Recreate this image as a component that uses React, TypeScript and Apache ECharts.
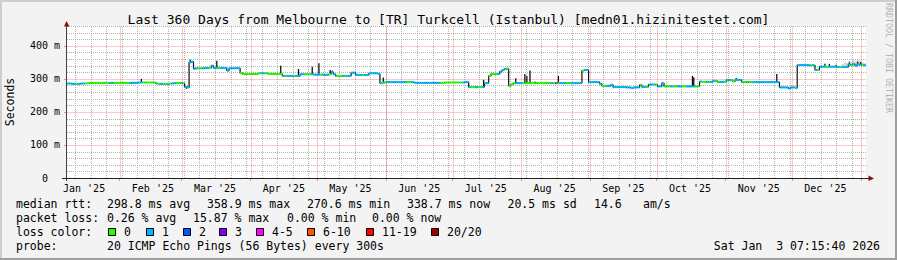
import React, { useEffect, useRef } from 'react';
import * as echarts from 'echarts';

// ---------- data ----------
const START_MS = Date.UTC(2025, 0, 8, 7, 15, 40);
const SPAN_DAYS = 360;
const Y_MAX = 460;

const titleText = 'Last 360 Days from Melbourne to [TR] Turkcell (Istanbul) [medn01.hizinitestet.com]';
const monthLabels = ["Jan '25", "Feb '25", "Mar '25", "Apr '25", "May '25", "Jun '25", "Jul '25", "Aug '25", "Sep '25", "Oct '25", "Nov '25", "Dec '25"];
const yTickValues = [0, 100, 200, 300, 400];

// daily median rtt (ms), day 0 = Jan 8 2025
const medianMs = [
  286, 286, 285, 285, 285, 285, 286, 286, 286, 287,
  287, 287, 288, 288, 287, 287, 288, 288, 288, 288,
  288, 287, 287, 288, 288, 288, 288, 287, 287, 288,
  288, 288, 289, 289, 289, 289, 289, 289, 289, 289,
  286, 285, 285, 285, 285, 285, 286, 286, 287, 287,
  287, 287, 287, 276, 274, 350, 352, 331, 332, 332,
  332, 332, 333, 333, 333, 340, 333, 333, 334, 333,
  333, 333, 325, 332, 332, 332, 333, 332, 318, 315,
  315, 315, 315, 315, 315, 315, 317, 317, 317, 317,
  316, 315, 315, 315, 315, 315, 315, 309, 309, 309,
  309, 309, 309, 309, 309, 314, 314, 314, 314, 314,
  314, 313, 313, 313, 313, 313, 312, 313, 314, 320,
  314, 309, 309, 309, 309, 309, 309, 309, 319, 319,
  312, 312, 312, 312, 312, 312, 317, 317, 317, 317,
  315, 287, 288, 290, 290, 290, 290, 290, 290, 290,
  290, 290, 290, 290, 290, 290, 289, 287, 288, 288,
  288, 288, 288, 288, 288, 288, 288, 288, 288, 288,
  289, 289, 289, 289, 289, 289, 289, 289, 289, 290,
  290, 275, 275, 275, 275, 275, 275, 275, 287, 287,
  309, 315, 315, 315, 315, 322, 327, 330, 331, 279,
  283, 287, 287, 287, 287, 287, 287, 287, 287, 287,
  287, 287, 287, 287, 287, 287, 287, 287, 287, 287,
  287, 287, 287, 287, 287, 287, 287, 287, 287, 287,
  287, 287, 325, 327, 327, 290, 290, 290, 290, 290,
  285, 279, 279, 279, 279, 282, 275, 275, 275, 275,
  275, 275, 274, 274, 272, 274, 274, 274, 282, 276,
  276, 276, 283, 283, 283, 283, 277, 277, 287, 277,
  277, 277, 277, 277, 277, 277, 277, 277, 277, 277,
  277, 277, 277, 277, 277, 292, 291, 291, 291, 291,
  291, 294, 294, 291, 291, 291, 291, 296, 296, 296,
  292, 297, 297, 297, 290, 290, 290, 290, 290, 290,
  290, 290, 290, 290, 290, 290, 290, 290, 290, 290,
  290, 274, 274, 274, 274, 271, 274, 274, 273, 342,
  342, 342, 342, 342, 341, 341, 341, 327, 327, 337,
  337, 337, 337, 337, 337, 337, 337, 336, 336, 336,
  336, 336, 343, 341, 345, 340, 344, 342, 343, 341,
];

// daily packet loss (pings lost of 20)
const lossCount = [
  1, 1, 1, 1, 0, 1, 1, 1, 0, 0,
  0, 0, 0, 0, 0, 0, 0, 0, 0, 1,
  1, 0, 0, 0, 0, 0, 0, 0, 1, 1,
  1, 1, 1, 1, 0, 0, 0, 0, 0, 0,
  1, 0, 1, 0, 0, 1, 0, 1, 1, 0,
  0, 1, 0, 1, 1, 1, 1, 1, 1, 0,
  0, 1, 1, 1, 0, 1, 1, 1, 0, 1,
  1, 1, 1, 1, 1, 1, 1, 1, 0, 0,
  0, 0, 0, 0, 0, 0, 0, 1, 1, 0,
  0, 0, 0, 0, 0, 0, 0, 1, 0, 1,
  1, 1, 0, 1, 1, 1, 1, 0, 0, 0,
  1, 1, 1, 1, 0, 1, 1, 1, 0, 1,
  1, 0, 0, 0, 1, 0, 1, 1, 1, 1,
  1, 1, 1, 0, 1, 1, 1, 1, 1, 1,
  1, 1, 0, 0, 1, 1, 1, 1, 1, 1,
  1, 1, 1, 0, 0, 1, 1, 1, 1, 1,
  1, 1, 1, 1, 1, 1, 1, 1, 0, 0,
  0, 0, 0, 0, 0, 0, 0, 0, 1, 1,
  1, 1, 0, 0, 1, 0, 0, 1, 1, 1,
  0, 0, 0, 0, 1, 1, 1, 1, 0, 0,
  0, 0, 1, 1, 1, 0, 0, 0, 0, 0,
  0, 0, 0, 0, 0, 0, 0, 0, 1, 0,
  4, 0, 1, 1, 1, 0, 0, 1, 1, 1,
  1, 1, 0, 1, 1, 1, 1, 1, 1, 1,
  1, 0, 0, 1, 1, 1, 1, 1, 1, 1,
  1, 1, 1, 1, 1, 1, 1, 1, 0, 1,
  1, 0, 1, 1, 1, 0, 1, 1, 1, 0,
  0, 0, 1, 0, 0, 1, 1, 0, 0, 1,
  1, 1, 1, 0, 0, 1, 0, 0, 1, 0,
  1, 1, 0, 0, 1, 1, 0, 1, 1, 0,
  0, 1, 1, 1, 0, 0, 1, 0, 0, 1,
  1, 1, 1, 1, 1, 1, 1, 1, 1, 1,
  1, 1, 1, 1, 1, 1, 1, 1, 1, 1,
  1, 1, 1, 1, 1, 0, 1, 1, 0, 1,
  1, 1, 0, 1, 1, 1, 1, 1, 0, 1,
  1, 1, 1, 0, 1, 1, 1, 1, 0, 1,
];

// short-lived excursions of the rtt: [day, value ms]
const spikes = [
  [33.5, 300], [53.8, 270], [55.5, 358], [67.5, 355], [96.3, 340], [104.3, 330], [110.5, 337],
  [113.5, 347], [118.6, 327], [119.6, 325], [142.5, 304], [187.7, 297], [202.2, 302],
  [206.3, 315], [207.2, 309], [208.6, 325], [210.8, 292], [221.4, 309], [268.4, 287],
  [281.8, 309], [282.4, 305], [301.5, 303], [319.8, 315], [341.5, 346], [343.5, 345],
  [346.5, 343], [352.5, 350], [356.2, 352], [357.6, 350],
];

// smoke (spread of pings) upper bound: [day, value ms]
const smokeHigh = [
  [349, 345], [350, 350], [351, 348], [352, 355], [353, 352], [354, 356],
  [355, 354], [356, 357], [357, 355], [358, 350], [359, 347],
];

const lossLegend = [
  { label: '0', min: 0, max: 0, color: '#26ff00' },
  { label: '1', min: 1, max: 1, color: '#00b8ff' },
  { label: '2', min: 2, max: 2, color: '#0059ff' },
  { label: '3', min: 3, max: 3, color: '#7e00ff' },
  { label: '4-5', min: 4, max: 5, color: '#ff00ff' },
  { label: '6-10', min: 6, max: 10, color: '#ff5500' },
  { label: '11-19', min: 11, max: 19, color: '#ff0000' },
  { label: '20/20', min: 20, max: 20, color: '#a10000' },
];

const rttStats = ['298.8 ms avg', '358.9 ms max', '270.6 ms min', '338.7 ms now', '20.5 ms sd', '14.6', 'am/s'];
const lossStats = ['0.26 % avg', '15.87 % max', '0.00 % min', '0.00 % now'];
const probeText = '20 ICMP Echo Pings (56 Bytes) every 300s';
const stampText = 'Sat Jan \u00a03 07:15:40 2026';

// ---------- layout ----------
const W = 897;
const H = 260;
const G_LEFT = 67;
const G_TOP = 26;
const G_RIGHT_X = 866;
const G_BOTTOM_Y = 178;
const FONT = '"DejaVu Sans Mono", monospace';
const LEG_SIZE = 11.5;
const rttX = [107, 207, 307, 407, 507.5, 594, 643];
const lossX = [107, 193, 287, 372];
const swatchX = [108, 146, 183, 219, 256, 307, 366, 431];
const rowY = [204, 218, 232, 246];
const MINOR_GRID = 'rgb(178,178,178)';
const MAJOR_GRID = 'rgba(238,80,80,0.3)';
const MAJOR_TICK = 'rgb(240,140,140)';

const dayOf = (y: number, m: number, d: number) => (Date.UTC(y, m, d) - START_MS) / 86400000;

function lossColor(n: number) {
  const b = lossLegend.find((l) => n >= l.min && n <= l.max);
  return b ? b.color : '#000';
}

function buildOption() {
  const monthStarts: number[] = [];
  for (let i = 1; i <= 12; i++) monthStarts.push(dayOf(2025, i, 1));
  const labelDays = monthLabels.map((_, i) => dayOf(2025, i, 16));
  const weekDays: number[] = [];
  for (let d = dayOf(2025, 0, 12); d < SPAN_DAYS; d += 7) weekDays.push(d);

  // grid segments: [x1, y1, x2, y2]
  const minorSegs: number[][] = [];
  weekDays.forEach((d) => minorSegs.push([d, 0, d, Y_MAX]));
  for (let v = 20; v <= Y_MAX; v += 20) if (v % 100 !== 0) minorSegs.push([0, v, SPAN_DAYS, v]);
  const majorSegs: number[][] = [];
  monthStarts.forEach((d) => majorSegs.push([d, 0, d, Y_MAX]));
  yTickValues.filter((v) => v > 0).forEach((v) => majorSegs.push([0, v, SPAN_DAYS, v]));

  const segLines = (api: any, segs: number[][], stroke: string, dashed: boolean) =>
    segs.map((s) => {
      const a = api.coord([s[0], s[1]]);
      const b = api.coord([s[2], s[3]]);
      const vertical = s[0] === s[2];
      const x1 = vertical ? Math.round(a[0]) + 0.5 : a[0];
      const x2 = vertical ? Math.round(b[0]) + 0.5 : b[0];
      const y1 = vertical ? a[1] : Math.round(a[1]) + 0.5;
      const y2 = vertical ? b[1] : Math.round(b[1]) + 0.5;
      const style: any = { stroke, lineWidth: 1 };
      if (dashed) style.lineDash = [1, 1];
      return { type: 'line', shape: { x1, y1, x2, y2 }, style };
    });

  const binData = medianMs.map((v, i) => [i, v, lossCount[i]]);
  const stepData = medianMs.map((v, i) => [i + 0.5, v]);
  const spikeData = spikes.map(([d, p]) => [d, medianMs[Math.min(medianMs.length - 1, Math.floor(d))], p]);
  const smokeData = smokeHigh.map(([d, hi]) => [d, medianMs[d] - 3, hi]);

  const txt = (text: string, x: number, y: number, extra: any = {}) => ({
    type: 'text',
    x,
    y,
    silent: true,
    style: { text, fill: '#000', fontFamily: FONT, fontSize: LEG_SIZE, textVerticalAlign: 'middle', ...extra },
  });

  const graphics: any[] = [
    // frame
    { type: 'polyline', silent: true, shape: { points: [[1, H], [1, 1], [W, 1]] }, style: { stroke: '#cecece', lineWidth: 2, fill: 'none' } },
    { type: 'polyline', silent: true, shape: { points: [[0, H - 1], [W - 1, H - 1], [W - 1, 0]] }, style: { stroke: '#9e9e9e', lineWidth: 2, fill: 'none' } },
    // title
    txt(titleText, W / 2, 19, { fontSize: 13, textAlign: 'center' }),
    // y axis title
    { type: 'text', silent: true, x: 10, y: 102, rotation: Math.PI / 2, style: { text: 'Seconds', fill: '#000', fontFamily: FONT, fontSize: LEG_SIZE, textAlign: 'center', textVerticalAlign: 'middle' } },
    // watermark
    { type: 'text', silent: true, x: 889, y: 58, rotation: -Math.PI / 2, style: { text: 'RRDTOOL / TOBI OETIKER', fill: '#b4b4b4', fontFamily: FONT, fontSize: 8.3, textAlign: 'center', textVerticalAlign: 'middle' } },
    // axes
    { type: 'line', silent: true, z: 10, shape: { x1: G_LEFT - 0.5, y1: G_BOTTOM_Y + 3, x2: G_LEFT - 0.5, y2: G_TOP - 4 }, style: { stroke: '#404040', lineWidth: 1 } },
    { type: 'line', silent: true, z: 10, shape: { x1: G_LEFT - 5, y1: G_BOTTOM_Y + 0.5, x2: G_RIGHT_X + 3, y2: G_BOTTOM_Y + 0.5 }, style: { stroke: '#202020', lineWidth: 1 } },
    { type: 'polygon', silent: true, z: 11, shape: { points: [[G_LEFT - 3, G_TOP + 0.5], [G_LEFT + 2.5, G_TOP + 0.5], [G_LEFT - 0.5, G_TOP - 5]] }, style: { fill: '#801010' } },
    { type: 'polygon', silent: true, z: 11, shape: { points: [[G_RIGHT_X + 2.5, G_BOTTOM_Y - 2.5], [G_RIGHT_X + 2.5, G_BOTTOM_Y + 3], [G_RIGHT_X + 8, G_BOTTOM_Y + 0.5]] }, style: { fill: '#801010' } },
    // legend rows
    txt('median rtt:', 16, rowY[0]),
    ...rttStats.map((s, i) => txt(s, rttX[i], rowY[0])),
    txt('packet loss:', 16, rowY[1]),
    ...lossStats.map((s, i) => txt(s, lossX[i], rowY[1])),
    txt('loss color:', 16, rowY[2]),
    ...lossLegend.map((l, i) => ({
      type: 'rect', silent: true,
      shape: { x: swatchX[i] + 0.5, y: rowY[2] - 3.5, width: 7, height: 7 },
      style: { fill: l.color, stroke: '#000', lineWidth: 1 },
    })),
    ...lossLegend.map((l, i) => txt(l.label, swatchX[i] + 16, rowY[2])),
    txt('probe:', 16, rowY[3]),
    txt(probeText, 107, rowY[3]),
    txt(stampText, 880, rowY[3], { textAlign: 'right' }),
  ];

  return {
    animation: false,
    backgroundColor: '#f3f3f3',
    grid: {
      left: G_LEFT,
      top: G_TOP,
      width: G_RIGHT_X - G_LEFT,
      height: G_BOTTOM_Y - G_TOP,
      show: true,
      backgroundColor: '#ffffff',
      borderWidth: 0,
      containLabel: false,
      outerBoundsMode: 'none',
    },
    xAxis: {
      type: 'value',
      min: 0,
      max: SPAN_DAYS,
      axisLine: { show: false },
      splitLine: { show: false },
      axisTick: { show: true, customValues: monthStarts, length: 3, lineStyle: { color: MAJOR_TICK } },
      axisLabel: {
        customValues: labelDays,
        margin: 5,
        color: '#000',
        fontFamily: FONT,
        fontSize: 10,
        formatter: (v: number) => {
          const i = labelDays.findIndex((d) => Math.abs(d - v) < 0.01);
          return i >= 0 ? monthLabels[i] : '';
        },
      },
    },
    yAxis: {
      type: 'value',
      min: 0,
      max: Y_MAX,
      axisLine: { show: false },
      splitLine: { show: false },
      axisTick: { show: true, customValues: yTickValues, length: 3, lineStyle: { color: MAJOR_TICK } },
      axisLabel: {
        customValues: yTickValues,
        margin: 7,
        color: '#000',
        fontFamily: FONT,
        fontSize: 10,
        formatter: (v: number) => (v === 0 ? '0\u00a0\u00a0' : `${v} m`),
      },
    },
    graphic: graphics,
    series: [
      {
        type: 'custom',
        z: 1,
        silent: true,
        clip: false,
        data: [[0, 0]],
        renderItem: (_p: any, api: any) => ({
          type: 'group',
          children: [
            ...segLines(api, minorSegs, MINOR_GRID, true),
            ...segLines(api, majorSegs, MAJOR_GRID, false),
          ],
        }),
      },
      {
        type: 'custom',
        z: 2,
        silent: true,
        clip: true,
        data: smokeData,
        encode: { x: 0, y: [1, 2] },
        renderItem: (_p: any, api: any) => {
          const d = api.value(0), lo = api.value(1), hi = api.value(2);
          const a = api.coord([d, hi]);
          const b = api.coord([d + 1, lo]);
          return { type: 'rect', shape: { x: a[0], y: a[1], width: b[0] - a[0], height: b[1] - a[1] }, style: { fill: 'rgba(0,0,0,0.16)' } };
        },
      },
      {
        type: 'line',
        z: 3,
        silent: true,
        step: 'middle',
        symbol: 'none',
        data: stepData,
        lineStyle: { color: '#101010', width: 1.2 },
      },
      {
        type: 'custom',
        z: 3,
        silent: true,
        clip: true,
        data: spikeData,
        encode: { x: 0, y: [1, 2] },
        renderItem: (_p: any, api: any) => {
          const d = api.value(0), base = api.value(1), pk = api.value(2);
          const a = api.coord([d, base]);
          const b = api.coord([d, pk]);
          return { type: 'line', shape: { x1: a[0], y1: a[1], x2: b[0], y2: b[1] }, style: { stroke: '#101010', lineWidth: 1.3 } };
        },
      },
      {
        type: 'custom',
        z: 4,
        silent: true,
        clip: true,
        data: binData,
        encode: { x: 0, y: 1 },
        renderItem: (_p: any, api: any) => {
          const d = api.value(0), v = api.value(1), l = api.value(2);
          const a = api.coord([d, v]);
          const b = api.coord([d + 1, v]);
          return { type: 'line', shape: { x1: a[0], y1: a[1], x2: b[0], y2: b[1] }, style: { stroke: lossColor(l), lineWidth: 2 } };
        },
      },
    ],
  };
}

export default function App() {
  const ref = useRef<HTMLDivElement>(null);
  useEffect(() => {
    const el = ref.current;
    if (!el) return;
    const chart = echarts.init(el, null, { renderer: 'svg' });
    chart.setOption(buildOption() as any);
    return () => chart.dispose();
  }, []);
  return (
    <div
      ref={ref}
      style={{ position: 'absolute', left: 0, top: 0, width: W, height: H, background: '#f3f3f3' }}
    />
  );
}
